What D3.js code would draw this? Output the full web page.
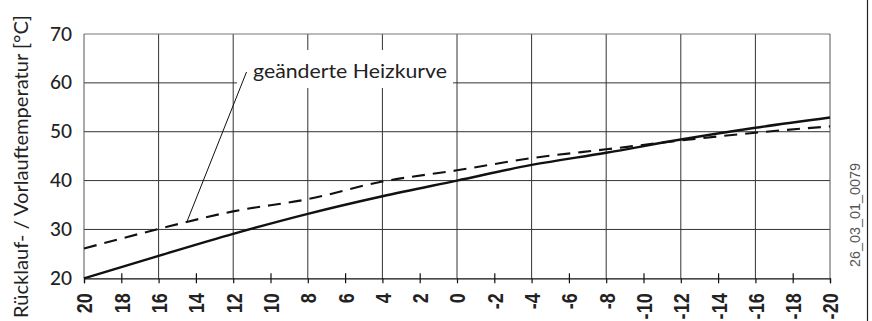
<!DOCTYPE html>
<html><head><meta charset="utf-8">
<script src="https://cdn.jsdelivr.net/npm/d3@7"></script>
<style>body{margin:0;background:#fff}svg{display:block}</style>
</head><body>
<svg id="c" width="872" height="321"></svg>
<script>
const outdoorTemps = [20, 16, 12, 8, 4, 0, -4, -8, -12, -16, -20];
const solidCurve   = [20, 24.6, 29.1, 33.2, 36.8, 40, 43.2, 45.7, 48.4, 50.8, 52.9];
const dashedCurve  = [26.1, 30.1, 33.7, 36.2, 39.8, 42.1, 44.6, 46.4, 48.2, 49.8, 51.1];
const xTicks = [20,18,16,14,12,10,8,6,4,2,0,-2,-4,-6,-8,-10,-12,-14,-16,-18,-20];
const xGrid  = [16,12,8,4,0,-4,-8,-12,-16];
const yTicks = [20,30,40,50,60,70];
const yTitle = "Rücklauf- / Vorlauftemperatur [°C]";
const annot = "geänderte Heizkurve";
const docId = "26_03_01_0079";

const svg = d3.select("#c");
const L = 84, R = 830, T = 34, B = 278.3;
const x = d3.scaleLinear().domain([20,-20]).range([L,R]);
const y = d3.scaleLinear().domain([20,70]).range([B,T]);

// horizontal grid
svg.selectAll(".hg").data(yTicks.filter(d=>d>20 && d<70)).enter().append("line")
  .attr("x1",L).attr("x2",R).attr("y1",d=>y(d)).attr("y2",d=>y(d))
  .attr("stroke","#333").attr("stroke-width",1);
// vertical grid
svg.selectAll(".vg").data(xGrid).enter().append("line")
  .attr("x1",d=>x(d)).attr("x2",d=>x(d)).attr("y1",T).attr("y2",B)
  .attr("stroke","#333").attr("stroke-width",1);
// frame top/right/left
svg.append("line").attr("x1",L).attr("x2",R).attr("y1",T).attr("y2",T).attr("stroke","#777");
svg.append("line").attr("x1",R).attr("x2",R).attr("y1",T).attr("y2",B).attr("stroke","#555");
svg.append("line").attr("x1",L).attr("x2",L).attr("y1",T).attr("y2",B).attr("stroke","#555");

// white annotation box
svg.append("rect").attr("x",237).attr("y",50).attr("width",216).attr("height",38).attr("fill","#fff");
svg.append("text").attr("x",253).attr("y",78).text(annot)
  .attr("font-family","Lato, 'Open Sans', sans-serif").attr("font-size",19)
  .attr("fill","#222").attr("textLength",194).attr("lengthAdjust","spacingAndGlyphs");
// leader line
svg.append("line").attr("x1",246.5).attr("y1",72).attr("x2",x(14.5)).attr("y2",y(31.4))
  .attr("stroke","#111").attr("stroke-width",1);

// bottom axis
const xAxis = d3.axisBottom(x).tickValues(xTicks).tickSize(5).tickFormat("");
const gx = svg.append("g").attr("transform",`translate(0,${B})`).call(xAxis);
gx.select(".domain").attr("stroke","#111").attr("stroke-width",1.2);
gx.selectAll(".tick line").attr("stroke","#111").attr("stroke-width",1.2)
  .attr("y1", d=> (Math.abs(d)%4===2) ? -5 : 0);
gx.selectAll(".tick").append("text")
  .attr("transform","translate(0,15) rotate(-90) scale(0.82,1)")
  .attr("text-anchor","end").attr("dy","0.36em")
  .attr("font-family","'Liberation Sans', Arial, sans-serif").attr("font-weight","bold")
  .attr("font-size",22).attr("fill","#222").text(d=>String(d));

// left labels
const yAxis = d3.axisLeft(y).tickValues(yTicks).tickSize(0).tickPadding(12);
const gy = svg.append("g").attr("transform",`translate(${L},0)`).call(yAxis);
gy.select(".domain").remove();
gy.selectAll("text").attr("font-family","Lato, 'Open Sans', sans-serif").attr("font-size",19)
  .attr("fill","#222").attr("font-weight","500");

// curves
const line = d3.line().x((d,i)=>x(outdoorTemps[i])).y(d=>y(d)).curve(d3.curveMonotoneX);
svg.append("path").attr("d",line(dashedCurve)).attr("fill","none")
  .attr("stroke","#111").attr("stroke-width",2.1).attr("stroke-dasharray","13,8");
svg.append("path").attr("d",line(solidCurve)).attr("fill","none")
  .attr("stroke","#111").attr("stroke-width",2.4);

// y title
svg.append("text").attr("transform","translate(28,318) rotate(-90)")
  .attr("font-family","Lato, 'Open Sans', sans-serif").attr("font-size",19).attr("fill","#222")
  .attr("textLength",303).attr("lengthAdjust","spacingAndGlyphs").text(yTitle);

// doc id
svg.append("text").attr("transform","translate(860,267) rotate(-90)")
  .attr("font-family","'Liberation Sans', Arial, sans-serif").attr("font-size",14).attr("fill","#555")
  .attr("textLength",104).attr("lengthAdjust","spacingAndGlyphs")
  .text(docId);

// right border
svg.append("line").attr("x1",867.5).attr("x2",867.5).attr("y1",0).attr("y2",321)
  .attr("stroke","#222").attr("stroke-width",1.2);
</script>
</body></html>
